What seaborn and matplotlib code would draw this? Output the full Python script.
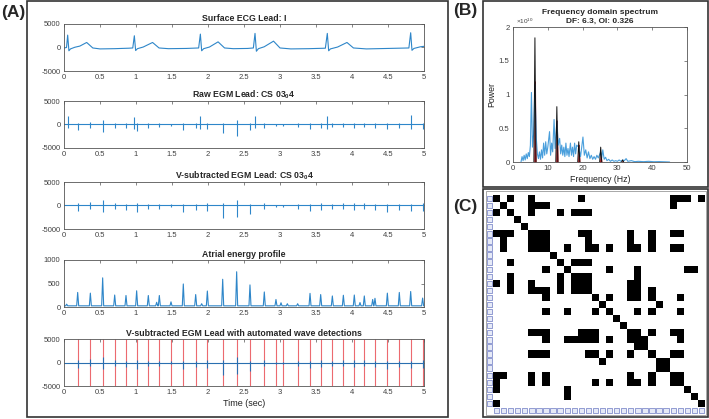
import numpy as np
import pandas as pd
import matplotlib
matplotlib.use("Agg")
import matplotlib.pyplot as plt
import seaborn as sns
from matplotlib.patches import Rectangle
from matplotlib.colors import ListedColormap

# ==========================================
# data
# ==========================================
# (A1) surface ECG lead I, vertices of the trace (sec, a.u.)
ecg_t = [0.00, 0.035, 0.051, 0.068, 0.09, 0.15, 0.22, 0.315, 0.40, 0.50, 0.70, 0.90,
         0.955, 0.977, 0.995, 1.02, 1.10, 1.23, 1.32, 1.45, 1.70, 1.87,
         1.894, 1.912, 1.94, 2.02, 2.14, 2.23, 2.35, 2.55, 2.63,
         2.653, 2.672, 2.70, 2.78, 2.91, 3.00, 3.15, 3.40, 3.63,
         3.657, 3.676, 3.70, 3.80, 3.93, 4.02, 4.20, 4.50, 4.79,
         4.815, 4.833, 4.86, 4.95, 5.00]
ecg_v = [-100, 0, 2640, -700, -300, 50, 300, 1070, -100, -300, -250, -150,
         -100, 2500, -650, -250, 100, 1070, -100, -250, -200, -100,
         2850, -700, -250, 100, 1200, -100, -250, -200, -100,
         3000, -800, -250, 150, 1350, -100, -300, -250, -150,
         3000, -700, -300, 100, 1070, -100, -300, -200, -100,
         3140, -600, -200, 150, 250]

# (A2) raw EGM CS 03-04: deflections (time, positive tip, negative tip)
raw_t = [0.051, 0.19, 0.366, 0.537, 0.704, 0.861, 0.977, 1.009, 1.171, 1.324,
         1.486, 1.657, 1.829, 1.894, 1.991, 2.204, 2.398, 2.583, 2.653, 2.782,
         2.944, 3.046, 3.245, 3.417, 3.565, 3.657, 3.727, 3.88, 4.032, 4.171,
         4.319, 4.491, 4.657, 4.815, 4.981]
raw_up = [1850, 400, 600, 900, 400, 300, 1700, 400, 300, 300,
          200, 400, 300, 1900, 400, 400, 900, 300, 1800, 400,
          200, 200, 300, 300, 400, 1800, 300, 400, 400, 400,
          300, 300, 300, 2100, 400]
raw_dn = [-700, -1100, -800, -1500, -700, -800, -900, -1300, -700, -600,
          -300, -1200, -800, -1000, -1000, -1800, -2400, -1200, -700, -700,
          -300, -300, -600, -900, -800, -900, -600, -600, -700, -600,
          -800, -1000, -800, -900, -900]

# (A3/A5) V-subtracted EGM: atrial deflections = automated detections
atrial_t = [0.19, 0.366, 0.537, 0.704, 0.861, 1.009, 1.171, 1.324, 1.486, 1.657,
            1.829, 1.991, 2.204, 2.398, 2.583, 2.782, 2.944, 3.046, 3.245, 3.417,
            3.565, 3.727, 3.88, 4.032, 4.171, 4.319, 4.491, 4.657, 4.815, 4.981]
vsub_up = [500, 700, 1070, 500, 300, 500, 300, 300, 300, 400,
           300, 500, 500, 1210, 400, 500, 200, 200, 300, 300,
           500, 300, 600, 600, 500, 300, 400, 300, 300, 500]
vsub_dn = [-1070, -700, -1430, -700, -930, -1430, -700, -700, -300, -1290,
           -930, -1070, -2640, -2500, -1790, -700, -300, -300, -700, -1070,
           -930, -700, -700, -930, -700, -930, -1430, -930, -1070, -1070]
egm_base_t = [0.0, 5.0]
egm_base_v = [0, 0]

# (A4) atrial energy profile peaks
energy_t = [0.037, 0.19, 0.366, 0.537, 0.704, 0.861, 1.009, 1.171, 1.287, 1.324,
            1.486, 1.657, 1.829, 1.912, 1.991, 2.204, 2.398, 2.583, 2.782, 2.944,
            3.014, 3.102, 3.245, 3.417, 3.565, 3.727, 3.88, 4.032, 4.111, 4.171,
            4.287, 4.319, 4.491, 4.657, 4.815, 4.981]
energy_h = [60, 310, 295, 620, 255, 245, 345, 245, 100, 245,
            110, 490, 265, 70, 340, 590, 750, 470, 320, 160,
            90, 70, 70, 290, 265, 235, 250, 255, 95, 235,
            160, 185, 295, 310, 330, 190]
energy_base = 25

# (B) frequency spectrum (Hz, x1e10)
spec_f = [2.3, 2.6, 2.9, 3.2, 3.5, 3.8, 4.1, 4.4, 4.7, 5.0, 5.3, 5.6, 5.9, 6.3, 6.7,
          7.0, 7.3, 7.6, 7.9, 8.2, 8.5, 8.8, 9.1, 9.4, 9.7, 10.0, 10.5, 10.8, 11.1,
          11.4, 11.8, 12.1, 12.6, 13.0, 13.4, 13.7, 14.0, 14.3, 14.6, 14.9, 15.2,
          15.5, 15.8, 16.1, 16.5, 16.8, 17.1, 17.4, 17.7, 18.0, 18.3, 18.9, 19.4,
          19.7, 20.1, 20.5, 20.9, 21.3, 21.7, 22.1, 22.5, 22.9, 23.3, 23.7, 24.1,
          24.5, 25.2, 25.5, 25.8, 26.2, 26.6, 27.0, 27.5, 28.0, 28.5, 29.0, 29.5,
          30.0, 30.5, 31.0, 31.5, 32.0, 32.5, 33.0, 34.0, 35.0, 36.0, 37.5, 39.0,
          40.5, 42.0, 43.5, 45.0]
spec_p = [0.0, 0.08, 0.02, 0.10, 0.03, 0.12, 0.05, 0.14, 0.08, 0.25, 1.03, 0.22, 0.40, 1.15, 0.35,
          0.12, 0.05, 0.15, 0.04, 0.18, 0.06, 0.28, 0.10, 0.30, 0.12, 0.22, 0.45, 0.10, 0.28,
          0.15, 0.63, 0.20, 0.60, 0.25, 0.35, 0.12, 0.25, 0.10, 0.22, 0.08, 0.28,
          0.10, 0.20, 0.08, 0.28, 0.10, 0.22, 0.08, 0.28, 0.12, 0.25, 0.22, 0.08,
          0.20, 0.37, 0.10, 0.18, 0.06, 0.15, 0.05, 0.10, 0.04, 0.08, 0.04, 0.10,
          0.06, 0.15, 0.06, 0.18, 0.04, 0.07, 0.02, 0.04, 0.01, 0.03, 0.01, 0.02,
          0.01, 0.03, 0.01, 0.03, 0.02, 0.05, 0.01, 0.02, 0.005, 0.01, 0.005, 0.01,
          0.004, 0.006, 0.003, 0.0]
harm_f = [6.3, 12.6, 18.9, 25.2, 31.5]
harm_p = [1.84, 0.82, 0.30, 0.22, 0.03]
harm_fill = [1.20, 0.62, 0.26, 0.12, 0.02]

# (C) binary 30x30 matrix, upper-triangle links (diagonal always on)
n_nodes = 30
links = {
    0: [2, 5, 12, 25, 26, 27, 29],
    1: [5, 6, 7, 25],
    2: [5, 9, 11, 12, 13],
    5: [6, 7, 12, 13, 19, 22, 25, 26],
    6: [7, 13, 19, 22],
    7: [10, 13, 14, 16, 19, 20, 22, 25, 26],
    9: [11, 12, 13],
    10: [16, 20, 27, 28],
    11: [12, 13, 20],
    12: [13, 19, 20],
    13: [19, 20, 22],
    14: [16, 19, 20, 22, 26],
    15: [23],
    16: [20, 22, 26],
    19: [20, 22, 25, 26],
    20: [21, 26],
    22: [25, 26],
    23: [24],
    25: [26],
}

time_ticks = [0, 0.5, 1, 1.5, 2, 2.5, 3, 3.5, 4, 4.5, 5]
time_labels = ["0", "0.5", "1", "1.5", "2", "2.5", "3", "3.5", "4", "4.5", "5"]

# ==========================================
# style
# ==========================================
sns.set_theme(style="white")
plt.rcParams["font.family"] = ["Liberation Sans", "DejaVu Sans"]
plt.rcParams["mathtext.fontset"] = "custom"
plt.rcParams["mathtext.rm"] = "Liberation Sans"
plt.rcParams["mathtext.bf"] = "Liberation Sans:bold"

W, H = 709, 419
BLUE = "#2e86c9"
GREY = "#404040"
fig = plt.figure(figsize=(W / 100, H / 100), dpi=100)
fig.patch.set_facecolor("white")


def place(left, top, width, height):
    return fig.add_axes([left / W, 1 - (top + height) / H, width / W, height / H])


def matlab_axes(ax, size=5.5):
    for s in ax.spines.values():
        s.set_color("#555555")
        s.set_linewidth(0.6)
        s.set_visible(True)
    ax.tick_params(direction="in", top=True, right=True, length=2, width=0.5,
                   colors="#555555", labelcolor=GREY, labelsize=size, pad=2.5)


def frame(x0, y0, x1, y1, color="#333333", lw=1.2):
    fig.add_artist(Rectangle((x0 / W, 1 - y1 / H), (x1 - x0) / W, (y1 - y0) / H,
                             transform=fig.transFigure, fill=False,
                             edgecolor=color, linewidth=lw))


# ==========================================
# (A) five stacked traces
# ==========================================
tops = [24, 101, 182, 260, 339]
titles = ["Surface ECG Lead: I",
          r"Raw EGM Lead: CS 03$_\mathbf{0}$4",
          r"V-subtracted EGM Lead: CS 03$_\mathbf{0}$4",
          "Atrial energy profile",
          "V-subtracted EGM Lead with automated wave detections"]
axA = [place(64, t, 360, 47) for t in tops]

sns.lineplot(x=ecg_t, y=ecg_v, ax=axA[0], color=BLUE, lw=0.8, estimator=None, sort=False)

sns.lineplot(x=egm_base_t, y=egm_base_v, ax=axA[1], color=BLUE, lw=0.8, estimator=None)
axA[1].vlines(raw_t, raw_dn, raw_up, color=BLUE, lw=0.8)

sns.lineplot(x=egm_base_t, y=egm_base_v, ax=axA[2], color=BLUE, lw=0.8, estimator=None)
axA[2].vlines(atrial_t, vsub_dn, vsub_up, color=BLUE, lw=0.8)

e_x, e_y = [0.0], [energy_base]
for t, h in zip(energy_t, energy_h):
    e_x += [t - 0.014, t, t + 0.014]
    e_y += [energy_base, h, energy_base]
e_x.append(5.0)
e_y.append(energy_base)
sns.lineplot(x=e_x, y=e_y, ax=axA[3], color=BLUE, lw=0.8, estimator=None, sort=False)

axA[4].vlines(atrial_t, -5000, 5000, color="#ec6a6f", lw=0.8)
sns.lineplot(x=egm_base_t, y=egm_base_v, ax=axA[4], color="#2a6fb0", lw=0.8, estimator=None)
axA[4].vlines(atrial_t, vsub_dn, vsub_up, color="#2a6fb0", lw=0.8)

for i, ax in enumerate(axA):
    matlab_axes(ax)
    ax.set_xlim(0, 5)
    ax.set_xticks(time_ticks)
    ax.set_xticklabels(time_labels)
    if i == 3:
        ax.set_ylim(0, 1000)
        ax.set_yticks([0, 500, 1000])
        ax.set_yticklabels(["0", "500", "1000"])
    else:
        ax.set_ylim(-5000, 5000)
        ax.set_yticks([-5000, 0, 5000])
        ax.set_yticklabels(["-5000", "0", "5000"])
    ax.set_title(titles[i], fontsize=6.3, fontweight="bold", pad=2.5)
    ax.set_xlabel("")
    ax.set_ylabel("")
axA[4].set_xlabel("Time (sec)", fontsize=6.5, color="#222222", labelpad=2)

# ==========================================
# (B) frequency domain spectrum
# ==========================================
axB = place(513, 27, 174, 135)
sns.lineplot(x=spec_f, y=spec_p, ax=axB, color="#4a9fdc", lw=0.8, estimator=None, sort=False)
for f, p, r in zip(harm_f, harm_p, harm_fill):
    axB.fill_between([f - 0.35, f - 0.15, f + 0.15, f + 0.35], 0, [0, r, r, 0],
                     color="#c0141c", lw=0)
    axB.plot([f - 0.3, f, f + 0.3], [0, p, 0], color="#111111", lw=0.7)
matlab_axes(axB, size=5.6)
axB.set_xlim(0, 50)
axB.set_ylim(0, 2)
axB.set_xticks([0, 10, 20, 30, 40, 50])
axB.set_yticks([0, 0.5, 1, 1.5, 2])
axB.set_yticklabels(["0", "0.5", "1", "1.5", "2"])
axB.set_xlabel("Frequency (Hz)", fontsize=6.3, color="#222222", labelpad=1.5)
axB.set_ylabel("Power", fontsize=6.3, color="#222222", labelpad=2)
axB.set_title("Frequency domain spectrum\nDF: 6.3, OI: 0.326", fontsize=6.0,
              fontweight="bold", pad=3, linespacing=1.3)
axB.text(0.02, 1.005, r"$\times10^{10}$", transform=axB.transAxes, fontsize=4.6,
         color=GREY, va="bottom", ha="left")

# ==========================================
# (C) binary matrix
# ==========================================
mat = np.eye(n_nodes)
for i, cols in links.items():
    for j in cols:
        mat[i, j] = 1
        mat[j, i] = 1
axC = place(493, 195, 212, 212)
sns.heatmap(pd.DataFrame(mat), ax=axC, cmap=ListedColormap(["white", "black"]),
            cbar=False, xticklabels=False, yticklabels=False, linewidths=0)
axC.set_xlim(-1.0, n_nodes)
axC.set_ylim(n_nodes + 1.0, 0)
for k in range(n_nodes):
    axC.add_patch(Rectangle((-0.85, k + 0.12), 0.72, 0.76, facecolor="#e6eaf7",
                            edgecolor="#4a5bb5", lw=0.4, clip_on=False))
    axC.add_patch(Rectangle((k + 0.12, n_nodes + 0.15), 0.76, 0.72, facecolor="#e6eaf7",
                            edgecolor="#4a5bb5", lw=0.4, clip_on=False))
axC.axis("off")
# widen the axes so the matrix itself keeps its place and the icons sit outside it
axC.set_position([(493 - 212 / 30) / W, 1 - (195 + 212 + 212 / 30) / H,
                  (212 + 212 / 30) / W, (212 + 212 / 30) / H])

# ==========================================
# panel frames and labels
# ==========================================
frame(27, 0.8, 448, 416.5)
frame(483, 0.8, 707.5, 187)
frame(483, 189, 707.5, 417)
frame(485.5, 191, 706, 415, color="#9a9a9a", lw=0.6)
fig.text(1 / W, 1 - 12 / H, "(A)", fontsize=12.5, fontweight="bold", va="center")
fig.text(453 / W, 1 - 11 / H, "(B)", fontsize=12.5, fontweight="bold", va="center")
fig.text(453 / W, 1 - 206 / H, "(C)", fontsize=12.5, fontweight="bold", va="center")

fig.savefig("out.png", dpi=100, facecolor="white")
